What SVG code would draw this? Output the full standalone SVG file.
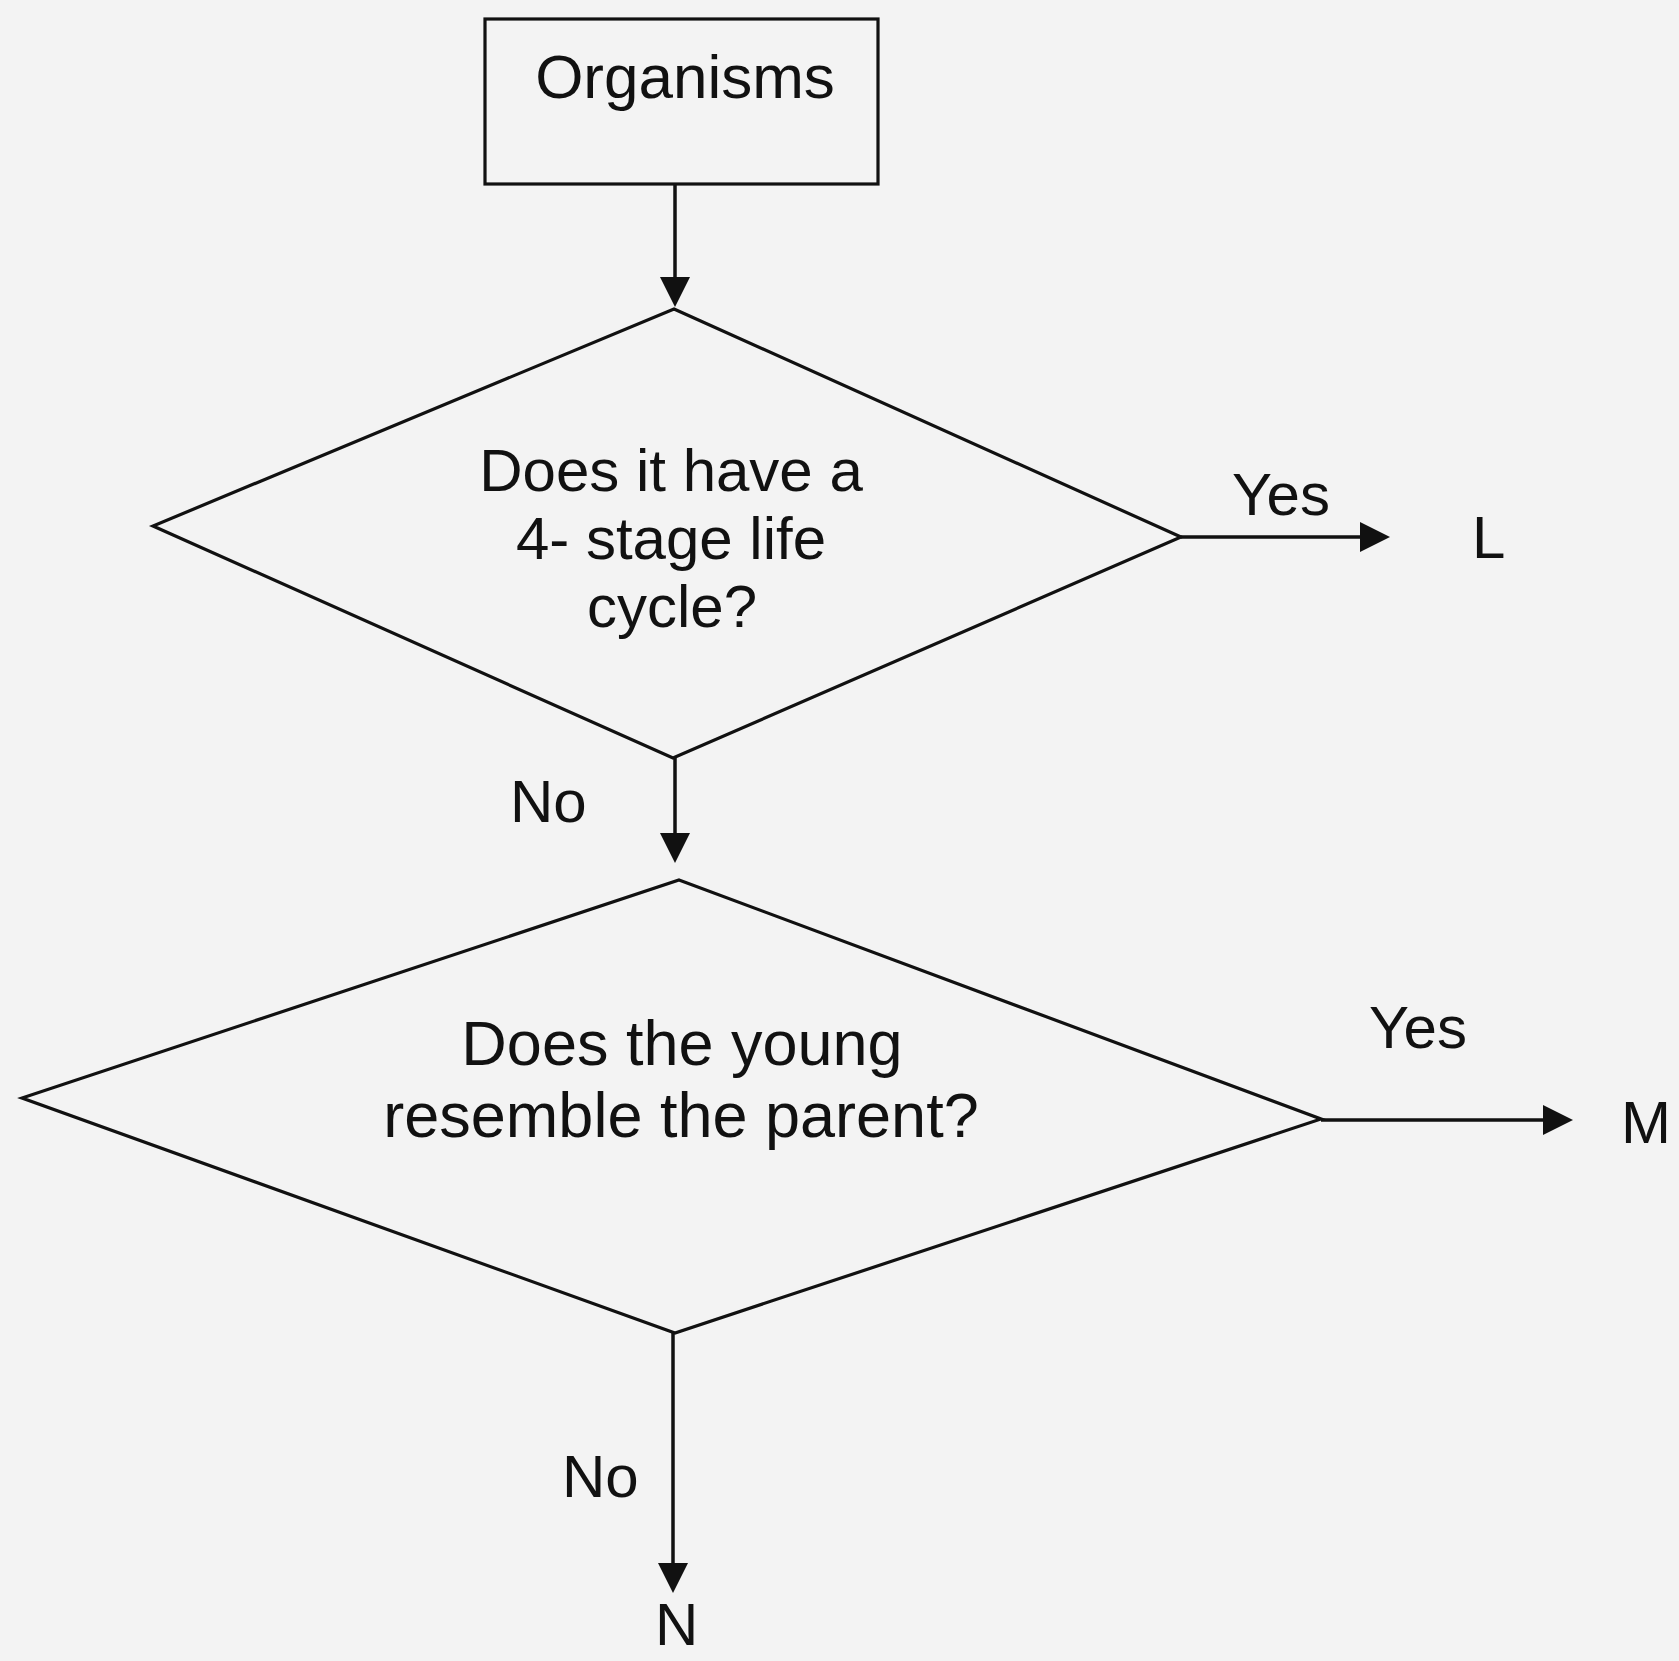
<svg xmlns="http://www.w3.org/2000/svg" width="1679" height="1661" viewBox="0 0 1679 1661">
<style>
.shape{fill:none;stroke:#111;stroke-width:3.2;stroke-linejoin:miter}
.conn{fill:none;stroke:#111;stroke-width:3.5}
text{font-family:"Liberation Sans",Arial,sans-serif;fill:#111}
.t60{font-size:60px}
.t63{font-size:63px}
.mid{text-anchor:middle}
</style>
<defs>
<marker id="arrow" viewBox="0 0 30 30" refX="26" refY="15" markerWidth="30" markerHeight="30" markerUnits="userSpaceOnUse" orient="auto">
<path d="M0,0 L30,15 L0,30 z" fill="#111"/>
</marker>
</defs>
<rect width="1679" height="1661" fill="#f3f3f3"/>
<g id="node-organisms">
<rect class="shape" x="485" y="19" width="393" height="165"/>
<text x="685" y="98" class="mid" font-size="62">Organisms</text>
</g>
<g id="node-q1">
<polygon class="shape" points="674,309 1181,537 673,758 153,526"/>
<text class="t60 mid" x="671" y="491">Does it have a</text>
<text class="t60 mid" x="671" y="559">4- stage life</text>
<text class="t60 mid" x="672" y="627">cycle?</text>
</g>
<g id="node-q2">
<polygon class="shape" points="679,880 1321,1119 675,1333 22,1098"/>
<text class="t63 mid" x="682" y="1065">Does the young</text>
<text class="t63 mid" x="681" y="1137">resemble the parent?</text>
</g>
<g id="node-L"><text class="t60" x="1472" y="558">L</text></g>
<g id="node-M"><text class="t60" x="1621" y="1143">M</text></g>
<g id="node-N"><text class="t60" x="655" y="1645">N</text></g>
<g id="connectors">
<line class="conn" x1="675" y1="184" x2="675" y2="303" marker-end="url(#arrow)"/>
<line class="conn" x1="675" y1="758" x2="675" y2="859" marker-end="url(#arrow)"/>
<line class="conn" x1="1181" y1="537" x2="1386" y2="537" marker-end="url(#arrow)"/>
<line class="conn" x1="1321" y1="1120" x2="1569" y2="1120" marker-end="url(#arrow)"/>
<line class="conn" x1="673" y1="1333" x2="673" y2="1589" marker-end="url(#arrow)"/>
<text class="t60" x="1232" y="515">Yes</text>
<text class="t60" x="510" y="822">No</text>
<text class="t60" x="1369" y="1048">Yes</text>
<text class="t60" x="562" y="1497">No</text>
</g>
</svg>
